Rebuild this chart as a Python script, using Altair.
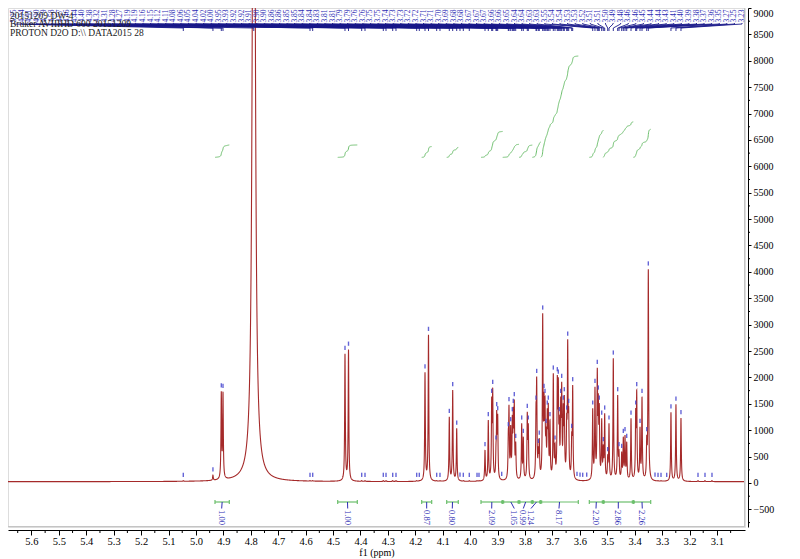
import numpy as np
import pandas as pd
import altair as alt

alt.data_transformers.disable_max_rows()

# ---------------- data ----------------
header_lines = ["20151209 DW-4", "Bruker AVIIIHD 600 20151209", r"PROTON D2O D:\\ DATA2015 28"]

peak_ppm = [4.938, 4.9075, 4.9013, 4.789, 4.4564, 4.4436, 4.1646, 4.1519, 4.0760, 4.0636, 4.0490,
            3.9458, 3.9338, 3.9214, 3.9177, 3.9057, 3.9031, 3.8995,
            3.8608, 3.8583, 3.8521, 3.8462, 3.8426, 3.8390, 3.8338,
            3.8120, 3.8061, 3.7916, 3.7879,
            3.7598, 3.7573, 3.7514, 3.7478, 3.7354, 3.7306, 3.7270, 3.7233, 3.7186, 3.7150, 3.7088,
            3.6967, 3.6905, 3.6821, 3.6785, 3.6749, 3.6697, 3.6661, 3.6603, 3.6566, 3.6479, 3.6442, 3.6406, 3.6296, 3.6260,
            3.5530, 3.5447, 3.5363, 3.5326, 3.5290, 3.5202, 3.5144, 3.5093, 3.4983, 3.4936, 3.4779, 3.4619, 3.4571,
            3.4473, 3.4414, 3.4352, 3.4290,
            3.4133, 3.3962, 3.3925, 3.3805, 3.3732, 3.3560, 3.3502,
            3.2676, 3.2494, 3.2311]
peak_height = [150, 1740, 1730, 20000, 2450, 2530, 2100, 2810, 1256, 1762, 1036,
               625, 1194, 1636, 1806, 752, 1383, 1307,
               1004, 1478, 1099, 1288, 1446, 1573, 783,
               1131, 878, 1351, 1131,
               1509, 2014, 688, 846, 3215, 1730, 1636, 1067, 1415, 1509, 1194,
               2078, 752, 2046, 2002, 1288, 1636, 1920, 1509, 1667, 1320, 2722, 1446, 972, 1857,
               1415, 1825, 2184, 1699, 1509, 1225, 720, 1320, 530, 1131, 2362, 1667, 625,
               593, 877, 909, 783,
               1225, 1415, 1762, 1067, 1636, 909, 4050,
               1340, 1490, 1232]
solvent_ppm = 4.789          # broad HOD line
baseline_level = 25

pick_ppm = [5.0461, 4.5840, 4.5742, 4.3955, 4.3834, 4.3167, 4.3068, 4.2824, 4.2704,
            4.1949, 4.1854, 4.1220, 4.1100, 4.0370, 4.0249, 4.0031,
            3.9749, 3.9677, 3.8849, 3.6103, 3.5993, 3.5895, 3.5749,
            3.3258, 3.3148, 3.3039, 3.2831, 3.1690, 3.1435, 3.1180]
pick_height = [20] * len(pick_ppm)

integral_start = [4.9305, 4.4830, 4.1767, 4.0855, 3.9604, 3.8813, 3.8218, 3.7733, 3.7427, 3.5654, 3.5144, 3.4049]
integral_end = [4.8783, 4.4115, 4.1402, 4.0432, 3.8813, 3.8218, 3.7733, 3.7427, 3.6055, 3.5144, 3.4049, 3.3415]
integral_value = [1.00, 1.00, 0.87, 0.80, 2.09, 1.05, 0.99, 1.24, 8.17, 2.20, 2.86, 2.26]
integral_label_ppm = [4.9061, 4.4465, 4.1585, 4.0651, 3.9214, 3.8390, 3.8061, 3.7781, 3.6760, 3.5410, 3.4597, 3.3722]

x_tick_values = [5.7, 5.6, 5.5, 5.4, 5.3, 5.2, 5.1, 5.0, 4.9, 4.8, 4.7, 4.6, 4.5, 4.4, 4.3, 4.2,
                 4.1, 4.0, 3.9, 3.8, 3.7, 3.6, 3.5, 3.4, 3.3, 3.2, 3.1]
x_minor_values = [5.65, 5.55, 5.45, 5.35, 5.25, 5.15, 5.05, 4.95, 4.85, 4.75, 4.65, 4.55, 4.45, 4.35,
                  4.25, 4.15, 4.05, 3.95, 3.85, 3.75, 3.65, 3.55, 3.45, 3.35, 3.25, 3.15, 3.05]
y_tick_values = [-500, 0, 500, 1000, 1500, 2000, 2500, 3000, 3500, 4000, 4500, 5000, 5500, 6000,
                 6500, 7000, 7500, 8000, 8500, 9000]
y_minor_values = [-750, -250, 250, 750, 1250, 1750, 2250, 2750, 3250, 3750, 4250, 4750, 5250, 5750,
                  6250, 6750, 7250, 7750, 8250, 8750]

# ---------------- layout ----------------
W, H = 737, 519
X_DOM = [2.9976, 5.6854]
Y_DOM = [-833.7, 9000]
FONT = "Liberation Serif"
RED = "#a52a2a"
BLUE = "#2d2db4"
NAVY = "#1a1a8a"
GREEN = "#6cbf6c"


def val(page_y):
    """data value at a given page row"""
    return Y_DOM[1] - (page_y - 8) * (Y_DOM[1] - Y_DOM[0]) / H


def ppm_at(page_x):
    return X_DOM[1] - (page_x - 8) * (X_DOM[1] - X_DOM[0]) / W


# ---------------- spectrum from the peak list ----------------
all_ppm = np.array(peak_ppm + pick_ppm, dtype=float)
targets = np.array(peak_height + [baseline_level + h for h in pick_height], dtype=float) - baseline_level
widths = np.where(np.isclose(all_ppm, solvent_ppm), 0.005, 0.0014)

Dm = (all_ppm[:, None] - all_ppm[None, :]) / widths[None, :]
M = 1.0 / (1.0 + Dm ** 2)
amp = targets.copy()
for _ in range(400):
    amp = np.clip(amp + 0.6 * (targets - M @ amp), 0, None)

grid = np.round(np.arange(X_DOM[0], X_DOM[1], 0.00025), 5)
grid = np.union1d(grid, np.round(all_ppm, 5))
spec = np.full(grid.shape, float(baseline_level))
for p, a, w in zip(all_ppm, amp, widths):
    spec += a / (1.0 + ((grid - p) / w) ** 2)
spec_df = pd.DataFrame({"ppm": grid, "intensity": np.round(np.minimum(spec, 12000), 1)})


def spec_at(p):
    return float(np.interp(p, grid, spec))


xs = alt.Scale(domain=X_DOM, reverse=True, nice=False, zero=False)
ys = alt.Scale(domain=Y_DOM, nice=False, zero=False)

x_axis = alt.Axis(values=x_tick_values, format=".1f", orient="bottom", offset=3, tickSize=5,
                  labelPadding=1, grid=False, domainColor="black", tickColor="black",
                  labelColor="black", labelFont=FONT, labelFontSize=10.5, labelFlush=False,
                  labelOverlap=False, title="f1 (ppm)", titleFont=FONT, titleFontSize=10,
                  titleFontWeight="normal", titleColor="black", titlePadding=1)
y_axis = alt.Axis(values=y_tick_values, format="d", orient="right", offset=3, tickSize=3,
                  labelPadding=2, grid=False, domainColor="black", tickColor="black",
                  labelColor="black", labelFont=FONT, labelFontSize=10, labelFlush=1,
                  labelOverlap=False, title="")


def X(field):
    return alt.X(field, type="quantitative", scale=xs, axis=x_axis)


def Y(field):
    return alt.Y(field, type="quantitative", scale=ys, axis=y_axis)


spectrum = alt.Chart(spec_df).mark_line(color=RED, strokeWidth=1.1, clip=True).encode(
    x=X("ppm"), y=Y("intensity"))

# ---------------- peak markers ----------------
mk_rows = []
for p in peak_ppm + pick_ppm:
    if np.isclose(p, solvent_ppm):
        continue
    h = spec_at(p)
    mk_rows.append({"ppm": p, "intensity": h + 70, "y2": h + 150})
markers = alt.Chart(pd.DataFrame(mk_rows)).mark_rule(color="#4a4ad0", strokeWidth=1.4, opacity=0.85).encode(
    x=X("ppm"), y=Y("intensity"), y2="y2:Q")

# ---------------- top peak labels with fan lines ----------------
labelled = sorted(peak_ppm + [p for p in pick_ppm if p > 4.0], reverse=True)
n = len(labelled)
lab_rows, fan_rows = [], []
for i, p in enumerate(labelled):
    lx = ppm_at(14 + i * (742 - 14) / (n - 1))
    lab_rows.append({"ppm": lx, "txt": f"{p:.2f}", "intensity": val(22.5)})
    for k, (xx, yy) in enumerate([(lx, val(23)), (lx, val(24)), (p, val(28)), (p, val(31))]):
        fan_rows.append({"id": i, "o": k, "ppm": xx, "intensity": yy})
top_labels = alt.Chart(pd.DataFrame(lab_rows)).mark_text(
    angle=270, align="left", baseline="middle", font=FONT, fontSize=7.5, color=BLUE).encode(
    x=X("ppm"), y=Y("intensity"), text="txt:N")
fan = alt.Chart(pd.DataFrame(fan_rows)).mark_line(color=NAVY, strokeWidth=0.9).encode(
    x=X("ppm"), y=Y("intensity"), detail="id:N", order="o:Q")

# ---------------- integral curves ----------------
ic_rows = []
for k, (a, b, v) in enumerate(zip(integral_start, integral_end, integral_value)):
    m = (grid <= a) & (grid >= b)
    g = grid[m][::-1]
    s = spec[m][::-1] - baseline_level
    cum = np.concatenate([[0.0], np.cumsum(0.5 * (s[1:] + s[:-1]) * np.abs(np.diff(g)))])
    cum = cum / cum[-1]
    yv = 6170 + v * 235 * cum
    idx = list(range(0, len(g), 3)) + [len(g) - 1]
    for j in idx:
        ic_rows.append({"id": k, "ppm": float(g[j]), "intensity": float(yv[j])})
int_curves = alt.Chart(pd.DataFrame(ic_rows)).mark_line(color=GREEN, strokeWidth=1).encode(
    x=X("ppm"), y=Y("intensity"), detail="id:N")

# ---------------- integral bars, labels ----------------
bar_y = val(502)
bars_df = pd.DataFrame({"ppm": integral_start, "b": integral_end, "intensity": [bar_y] * len(integral_start)})
bars = alt.Chart(bars_df).mark_rule(color=GREEN, strokeWidth=1.2).encode(
    x=X("ppm"), x2="b:Q", y=Y("intensity"))
edges = sorted(set(integral_start + integral_end))
caps_df = pd.DataFrame({"ppm": edges, "intensity": [bar_y - 40] * len(edges), "y2": [bar_y + 40] * len(edges)})
caps = alt.Chart(caps_df).mark_rule(color=GREEN, strokeWidth=1.2).encode(
    x=X("ppm"), y=Y("intensity"), y2="y2:Q")
inner = [e for e in edges if e in integral_start and e in integral_end]
dots = alt.Chart(pd.DataFrame({"ppm": inner, "intensity": [bar_y] * len(inner)})).mark_square(
    color=GREEN, size=10, opacity=1).encode(x=X("ppm"), y=Y("intensity"))
con_rows = []
for k, (a, b, lp) in enumerate(zip(integral_start, integral_end, integral_label_ppm)):
    c = (a + b) / 2
    con_rows += [{"id": k, "o": 0, "ppm": c, "intensity": bar_y},
                 {"id": k, "o": 1, "ppm": lp, "intensity": val(508.5)}]
connectors = alt.Chart(pd.DataFrame(con_rows)).mark_line(color=BLUE, strokeWidth=1).encode(
    x=X("ppm"), y=Y("intensity"), detail="id:N", order="o:Q")
il_df = pd.DataFrame({"ppm": integral_label_ppm, "t": [f"{v:.2f}" for v in integral_value],
                      "intensity": [val(510)] * len(integral_value)})
int_labels = alt.Chart(il_df).mark_text(angle=90, align="left", baseline="middle", font=FONT,
                                        fontSize=8.5, color=BLUE).encode(
    x=X("ppm"), y=Y("intensity"), text="t:N")

# ---------------- minor ticks and frame ----------------
xminor = alt.Chart(pd.DataFrame({"ppm": x_minor_values})).mark_rule(color="black").encode(
    x=X("ppm"), y=alt.value(H + 3), y2=alt.value(H + 6))
yminor = alt.Chart(pd.DataFrame({"intensity": y_minor_values})).mark_rule(color="black").encode(
    y=Y("intensity"), x=alt.value(W + 3), x2=alt.value(W + 5))
one = pd.DataFrame({"k": [0]})
frame_r = alt.Chart(one).mark_rule(color="#c4c4c4").encode(
    x=alt.value(W - 0.5), y=alt.value(0), y2=alt.value(H))
frame_b = alt.Chart(one).mark_rule(color="#c4c4c4").encode(
    x=alt.value(0), x2=alt.value(W), y=alt.value(H - 0.5))

# ---------------- header text ----------------
hdr = []
for i, line in enumerate(header_lines):
    hdr.append(alt.Chart(one).mark_text(align="left", baseline="alphabetic", font=FONT, fontSize=9.5,
                                        color="#222222").encode(
        x=alt.value(2), y=alt.value(10.5 + i * 8.5), text=alt.value(line)))

chart = alt.layer(
    spectrum, frame_r, frame_b, int_curves, markers, fan, top_labels, *hdr,
    bars, caps, dots, connectors, int_labels, xminor, yminor,
).properties(
    width=W, height=H,
    autosize=alt.AutoSizeParams(type="none"),
    padding={"left": 0, "top": 0, "right": 47, "bottom": 32},
).configure_view(stroke=None).configure(background="white")

chart.save("out.html", embed_options={"renderer": "svg", "actions": False})
